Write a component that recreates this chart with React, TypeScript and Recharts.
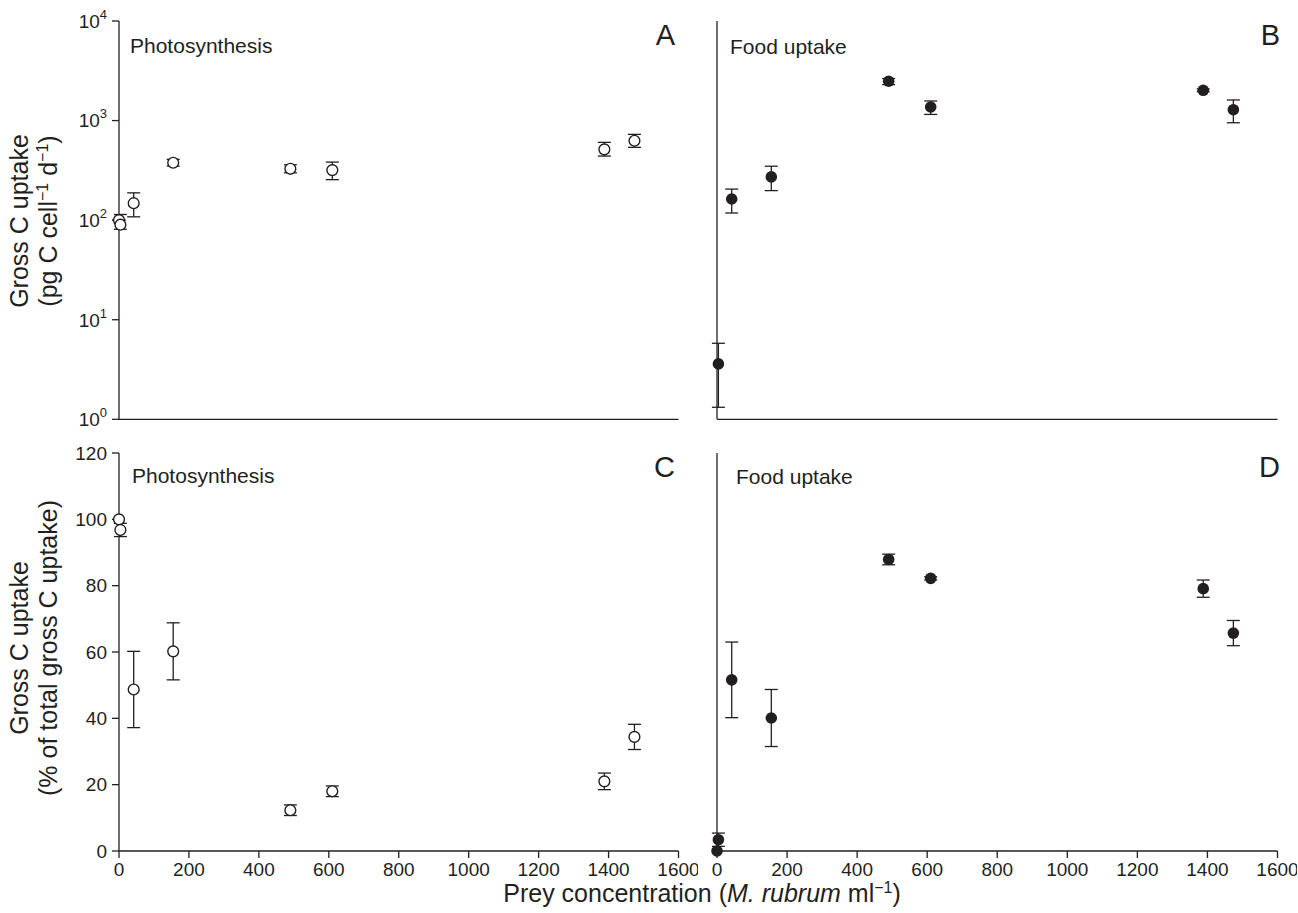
import { ScatterChart, Scatter, XAxis, YAxis, ErrorBar } from "recharts"

const INK = "#231f20"
const FONT = "'Liberation Sans', Arial, Helvetica, sans-serif"

// prey concentration (M. rubrum ml-1) for each treatment
const prey = [0, 4, 42, 155, 490, 610, 1388, 1474]

// panel A: photosynthesis, pg C cell-1 d-1 (mean, lower, upper)
const photoC = [100, 90, 148, 377, 328, 318, 514, 627]
const photoCLow = [100, 81, 108, 349, 299, 255, 440, 538]
const photoCHigh = [100, 114, 188, 408, 360, 383, 604, 727]

// panel B: food uptake, pg C cell-1 d-1 (no value at zero prey)
const foodPrey = [4, 42, 155, 490, 610, 1388, 1474]
const foodC = [3.6, 163, 272, 2483, 1368, 2014, 1286]
const foodCLow = [1.32, 118, 198, 2297, 1153, 1950, 951]
const foodCHigh = [5.8, 205, 348, 2641, 1573, 2080, 1610]

// panels C & D: % of total gross C uptake (mean, +/- error)
const photoPct = [100, 96.8, 48.7, 60.2, 12.3, 18.0, 21.0, 34.4]
const photoPctErr = [0, 2, 11.5, 8.6, 1.6, 1.6, 2.5, 3.8]
const foodPct = [0, 3.4, 51.6, 40.1, 87.9, 82.2, 79.1, 65.7]
const foodPctErr = [0, 2, 11.4, 8.6, 1.6, 0.5, 2.6, 3.8]

const xTicks = [0, 200, 400, 600, 800, 1000, 1200, 1400, 1600]
const logTicks = [1, 10, 100, 1000, 10000]
const pctTicks = [0, 20, 40, 60, 80, 100, 120]

const rowsA = prey.map((x, i) => ({ x, y: photoC[i], err: [photoC[i] - photoCLow[i], photoCHigh[i] - photoC[i]] }))
const rowsB = foodPrey.map((x, i) => ({ x, y: foodC[i], err: [foodC[i] - foodCLow[i], foodCHigh[i] - foodC[i]] }))
const rowsC = prey.map((x, i) => ({ x, y: photoPct[i], err: photoPctErr[i] }))
const rowsD = prey.map((x, i) => ({ x, y: foodPct[i], err: foodPctErr[i] }))

const PowerTick = (props: any) => {
  const { x, y, payload } = props
  const exp = Math.round(Math.log10(payload.value))
  return (
    <text x={x} y={y} dy="0.36em" textAnchor="end" fill={INK} fontSize={19} fontFamily={FONT}>
      10<tspan dy={-9} fontSize={13}>{exp}</tspan>
    </text>
  )
}

const openDot = (p: any) => <circle cx={p.cx} cy={p.cy} r={5.4} fill="#fff" stroke={INK} strokeWidth={1.4} />
const fullDot = (p: any) => <circle cx={p.cx} cy={p.cy} r={5.8} fill={INK} />

type Plot = { x0: number; x1: number; y0: number; y1: number }

const YW = 60
const XH = 30

function Panel(props: { plot: Plot; rows: any[]; log?: boolean; filled?: boolean; xLabels?: boolean; yLabels?: boolean }) {
  const { plot, rows, log, filled, xLabels, yLabels } = props
  const padL = 80, padT = 20, padR = 20, padB = 50
  const w = plot.x1 - plot.x0 + padL + padR
  const h = plot.y1 - plot.y0 + padT + padB
  const axisStyle = { stroke: INK, strokeWidth: 1.3 }
  const tickFont = { fill: INK, fontSize: 19, fontFamily: FONT }
  return (
    <div style={{ position: "absolute", left: plot.x0 - padL, top: plot.y0 - padT }}>
      <ScatterChart
        width={w}
        height={h}
        margin={{ left: padL - YW, top: padT, right: padR, bottom: padB - XH }}
      >
        <XAxis
          dataKey="x"
          type="number"
          domain={[0, 1600]}
          ticks={xTicks}
          interval={0}
          height={XH}
          axisLine={axisStyle}
          tickLine={axisStyle}
          tickSize={7}
          tickMargin={5}
          tick={xLabels ? tickFont : false}
        />
        {log ? (
          <YAxis
            dataKey="y"
            type="number"
            scale="log"
            domain={[1, 10000]}
            ticks={logTicks}
            interval={0}
            allowDataOverflow
            width={YW}
            axisLine={axisStyle}
            tickLine={axisStyle}
            tickSize={7}
            tickMargin={5}
            tick={yLabels ? <PowerTick /> : false}
          />
        ) : (
          <YAxis
            dataKey="y"
            type="number"
            domain={[0, 120]}
            ticks={pctTicks}
            interval={0}
            width={YW}
            axisLine={axisStyle}
            tickLine={axisStyle}
            tickSize={7}
            tickMargin={5}
            tick={yLabels ? tickFont : false}
          />
        )}
        <Scatter data={rows} shape={filled ? fullDot : openDot} isAnimationActive={false}>
          <ErrorBar dataKey="err" direction="y" width={6.5} stroke={INK} strokeWidth={1.3} />
        </Scatter>
      </ScatterChart>
    </div>
  )
}

const plotA = { x0: 118.5, x1: 678, y0: 21, y1: 419.3 }
const plotB = { x0: 716.5, x1: 1277, y0: 21, y1: 419.3 }
const plotC = { x0: 118.5, x1: 678, y0: 452.7, y1: 850.7 }
const plotD = { x0: 716.5, x1: 1277, y0: 452.7, y1: 850.7 }

export default function App() {
  const txt = { fill: INK, fontFamily: FONT }
  return (
    <div style={{ position: "relative", width: 1298, height: 913, background: "#fff", fontFamily: FONT, overflow: "hidden" }}>
      <style>{"body{margin:0}"}</style>
      <Panel plot={plotA} rows={rowsA} log yLabels />
      <Panel plot={plotB} rows={rowsB} log filled />
      <Panel plot={plotC} rows={rowsC} xLabels yLabels />
      <Panel plot={plotD} rows={rowsD} filled xLabels />
      <svg width={1298} height={913} style={{ position: "absolute", left: 0, top: 0, pointerEvents: "none" }}>
        <g {...txt} fontSize={21}>
          <text x={130} y={53}>Photosynthesis</text>
          <text x={730} y={54}>Food uptake</text>
          <text x={132} y={483}>Photosynthesis</text>
          <text x={736} y={484}>Food uptake</text>
        </g>
        <g {...txt} fontSize={29} textAnchor="end">
          <text x={675} y={45}>A</text>
          <text x={1280} y={45}>B</text>
          <text x={675} y={477}>C</text>
          <text x={1280} y={477}>D</text>
        </g>
        <g {...txt} fontSize={25} textAnchor="middle">
          <text transform="translate(28,221) rotate(-90)">Gross C uptake</text>
          <text transform="translate(57,221) rotate(-90)">
            (pg C cell<tspan dy={-9} fontSize={16}>−1</tspan>
            <tspan dy={9}> d</tspan>
            <tspan dy={-9} fontSize={16}>−1</tspan>
            <tspan dy={9}>)</tspan>
          </text>
          <text transform="translate(28,648) rotate(-90)">Gross C uptake</text>
          <text transform="translate(57,648) rotate(-90)">(% of total gross C uptake)</text>
          <text x={702} y={902}>
            Prey concentration (<tspan fontStyle="italic">M. rubrum</tspan> ml
            <tspan dy={-9} fontSize={16}>−1</tspan>
            <tspan dy={9}>)</tspan>
          </text>
        </g>
      </svg>
    </div>
  )
}
